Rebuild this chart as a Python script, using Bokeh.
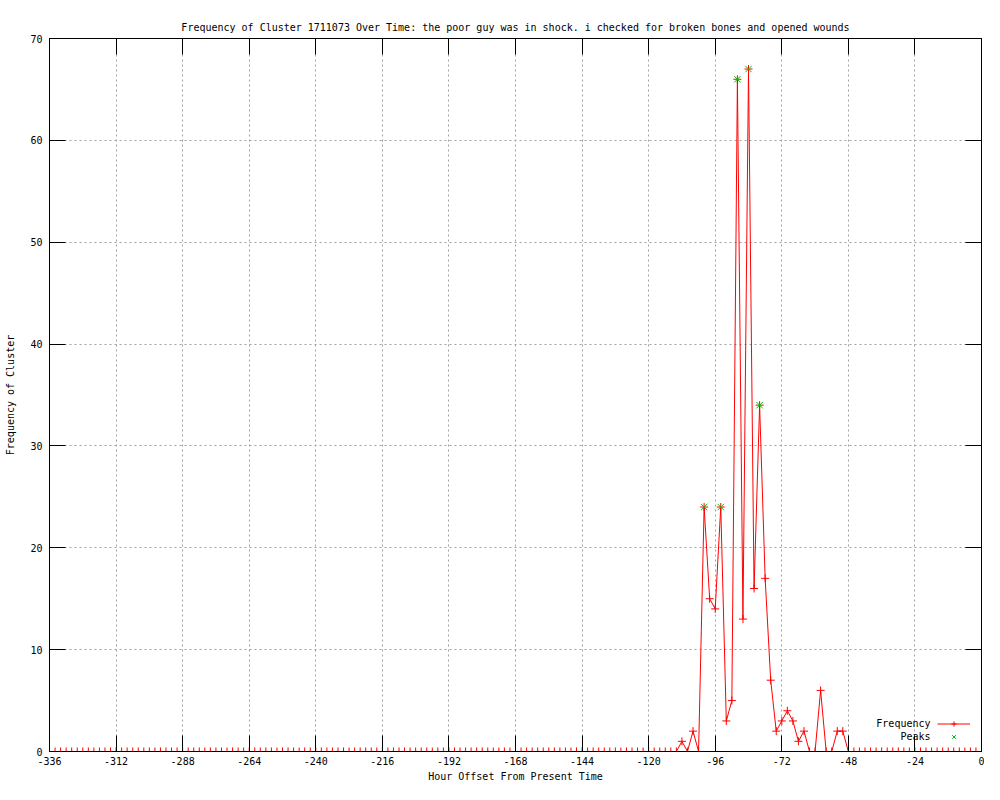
from bokeh.plotting import figure
from bokeh.models import (Range1d, FixedTicker, LinearAxis, Legend, LegendItem, Label)
from bokeh.core.properties import value
from bokeh.embed import file_html
from bokeh.resources import INLINE

# ---- data ----
hours = list(range(-336, 1, 2))
nonzero = {
    -108: 1, -104: 2, -100: 24, -98: 15, -96: 14, -94: 24, -92: 3, -90: 5,
    -88: 66, -86: 13, -84: 67, -82: 16, -80: 34, -78: 17, -76: 7, -74: 2,
    -72: 3, -70: 4, -68: 3, -66: 1, -64: 2, -58: 6, -52: 2, -50: 2,
}
freq = [nonzero.get(h, 0) for h in hours]
peak_hours = [-100, -94, -88, -84, -80]
peak_values = [24, 24, 66, 67, 34]
x_ticks = list(range(-336, 1, 24))
y_ticks = list(range(0, 71, 10))

TITLE = ("Frequency of Cluster 1711073 Over Time: the poor guy was in shock. "
         "i checked for broken bones and opened wounds")
FONT = "DejaVu Sans Mono"
FS = "10px"
RED = "#ff0000"
GREEN = "#00c000"

p = figure(width=984, height=784, output_backend="svg", toolbar_location=None,
           x_range=Range1d(-336, 0), y_range=Range1d(0, 70),
           x_axis_location=None, y_axis_location=None,
           min_border_left=49, min_border_right=3, min_border_top=38,
           min_border_bottom=32)
p.title.text = TITLE
p.title.text_font = FONT
p.title.text_font_size = FS
p.title.text_font_style = "normal"
p.title.text_color = "black"
p.title.align = "center"
p.title.standoff = 12
p.outline_line_color = "black"
p.outline_line_width = 1
p.background_fill_color = "white"
p.border_fill_color = "white"


def make_axis(ticks, labels=True, **kw):
    ax = LinearAxis(ticker=FixedTicker(ticks=ticks, minor_ticks=[]), **kw)
    ax.major_tick_in = 16
    ax.major_tick_out = 0
    ax.minor_tick_in = 0
    ax.minor_tick_out = 0
    ax.axis_line_color = "black"
    ax.major_tick_line_color = "black"
    ax.major_label_text_font = FONT
    ax.major_label_text_font_size = FS if labels else "0px"
    ax.major_label_text_color = "black"
    ax.axis_label_text_font = FONT
    ax.axis_label_text_font_size = FS
    ax.axis_label_text_font_style = "normal"
    ax.axis_label_text_color = "black"
    ax.major_label_overrides = {t: str(t) for t in ticks}
    if not labels:
        ax.major_label_standoff = 0
        ax.major_label_overrides = {t: "" for t in ticks}
    return ax


xb = make_axis(x_ticks, axis_label="Hour Offset From Present Time")
xb.major_label_standoff = 5
xb.axis_label_standoff = 3
yl = make_axis(y_ticks, axis_label="Frequency of Cluster")
yl.major_label_standoff = 7
yl.axis_label_standoff = 11
yl.major_label_orientation = "horizontal"
xt = make_axis(x_ticks, labels=False)
yr = make_axis(y_ticks, labels=False)
p.add_layout(xb, "below")
p.add_layout(yl, "left")
p.add_layout(xt, "above")
p.add_layout(yr, "right")

p.xgrid.ticker = FixedTicker(ticks=x_ticks, minor_ticks=[])
p.ygrid.ticker = FixedTicker(ticks=y_ticks, minor_ticks=[])
for g in (p.xgrid, p.ygrid):
    g.grid_line_color = "#a0a0a0"
    g.grid_line_dash = "2 3"
    g.grid_line_width = 1

line_r = p.line(hours, freq, line_color=RED, line_width=1)
pts_r = p.scatter(hours, freq, marker="cross", size=8, line_color=RED, line_width=1)
peak_r = p.scatter(peak_hours, peak_values, marker="x", size=9, line_color=GREEN,
                   line_width=1)

legend = Legend(items=[LegendItem(label=value(""), renderers=[line_r, pts_r]),
                       LegendItem(label=value(""), renderers=[peak_r])],
                location=(888, 8), glyph_width=33, glyph_height=13,
                label_standoff=0, spacing=0, padding=0, margin=0,
                border_line_color=None, background_fill_alpha=0,
                label_text_font=FONT, label_text_font_size=FS)
p.add_layout(legend, "center")

for txt, yy in (("Frequency", 28), ("Peaks", 15)):
    p.add_layout(Label(x=881, y=yy, x_units="screen", y_units="screen", text=txt,
                       text_align="right", text_baseline="middle",
                       text_font=FONT, text_font_size=FS, text_color="black"))

open("out.html", "w").write(file_html(p, INLINE))
